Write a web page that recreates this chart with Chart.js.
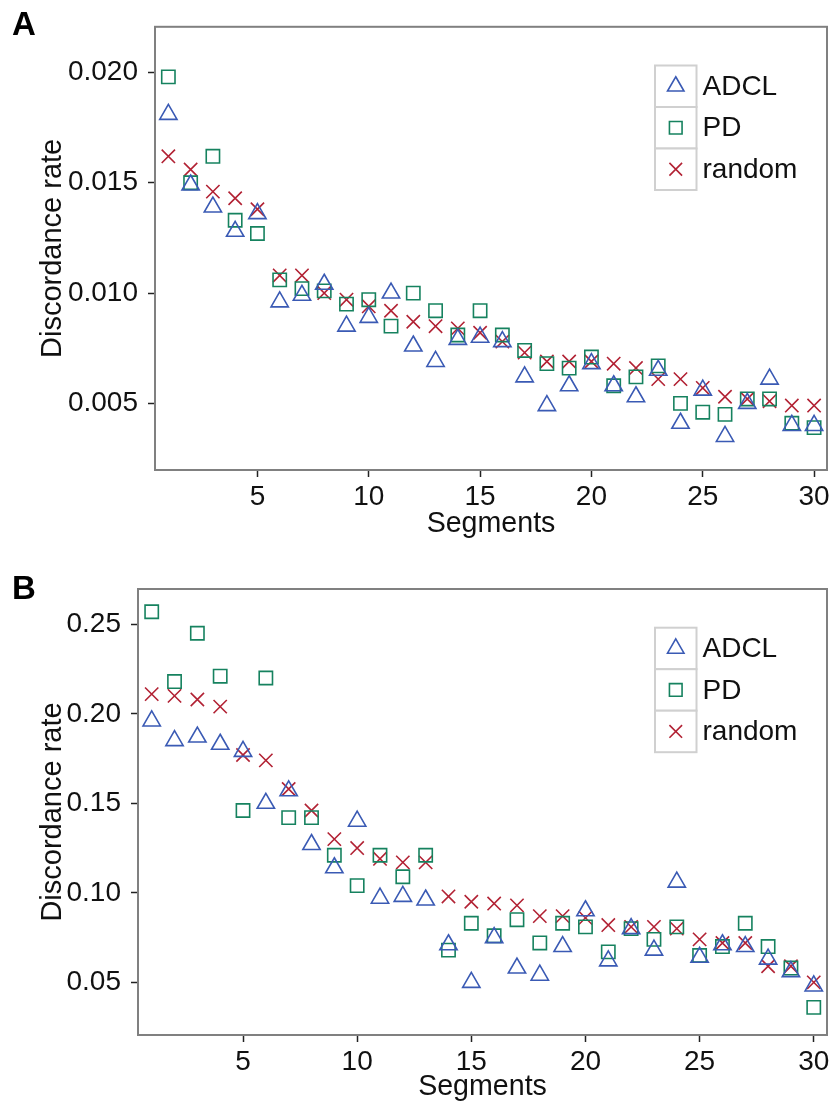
<!DOCTYPE html>
<html>
<head>
<meta charset="utf-8">
<script src="https://cdn.jsdelivr.net/npm/chart.js@4/dist/chart.umd.min.js"></script>
<style>
  html, body { margin: 0; padding: 0; background: #fff; overflow: hidden; }
  #wrap { position: relative; width: 833px; height: 1103px; }
  canvas { position: absolute; left: 0; }
  #chartA { top: 0; }
  #chartB { top: 550px; }
  .tag { position: absolute; left: 12px; font: bold 33px "Liberation Sans", Arial, Helvetica, sans-serif; line-height: 1; color: #000; }
</style>
</head>
<body>
<div id="wrap">
  <canvas id="chartA" width="833" height="550"></canvas>
  <canvas id="chartB" width="833" height="553"></canvas>
  <div class="tag" style="top:7px">A</div>
  <div class="tag" style="top:571px">B</div>
</div>
<script>
// Number of segments on the x axis
const segments = [1,2,3,4,5,6,7,8,9,10,11,12,13,14,15,16,17,18,19,20,21,22,23,24,25,26,27,28,29,30];
const seriesNames = ['ADCL', 'PD', 'random'];

// Panel A: discordance rate per segment count
const adclA = [0.0181,0.0149,0.0139,0.0128,0.0136,0.0096,0.0099,0.0104,0.0085,0.0089,
               0.0100,0.0076,0.0069,0.0079,0.0080,0.0078,0.0062,0.0049,0.0058,0.0068,
               0.0058,0.0053,0.0065,0.0041,0.0056,0.0035,0.0050,0.0061,0.0040,0.0040];
const pdA = [0.0198,0.0150,0.0162,0.0133,0.0127,0.0106,0.0102,0.0101,0.0095,0.0097,
             0.0085,0.0100,0.0092,0.0081,0.0092,0.0081,0.0074,0.0068,0.0066,0.0071,
             0.0058,0.0062,0.0067,0.0050,0.0046,0.0045,0.0052,0.0052,0.0041,0.0039];
const randomA = [0.0162,0.0156,0.0146,0.0143,0.0138,0.0108,0.0108,0.0100,0.0097,0.0094,
                 0.0092,0.0087,0.0085,0.0084,0.0082,0.0078,0.0073,0.0069,0.0069,0.0069,
                 0.0068,0.0066,0.0061,0.0061,0.0057,0.0053,0.0052,0.0051,0.0049,0.0049];

// Panel B: discordance rate per segment count
const adclB = [0.196,0.185,0.187,0.183,0.179,0.150,0.157,0.127,0.114,0.140,
               0.097,0.098,0.096,0.071,0.050,0.075,0.058,0.054,0.070,0.090,
               0.062,0.080,0.068,0.106,0.064,0.071,0.070,0.063,0.056,0.048];
const pdB = [0.257,0.218,0.245,0.221,0.146,0.220,0.142,0.142,0.121,0.104,
             0.121,0.109,0.121,0.068,0.083,0.076,0.085,0.072,0.083,0.081,
             0.067,0.080,0.074,0.081,0.065,0.070,0.083,0.070,0.058,0.036];
const randomB = [0.211,0.210,0.208,0.204,0.177,0.174,0.158,0.146,0.130,0.125,
                 0.119,0.117,0.117,0.098,0.095,0.094,0.093,0.087,0.087,0.086,
                 0.082,0.081,0.081,0.080,0.074,0.072,0.072,0.059,0.059,0.050];

// Tick marks and their labels
const xTicks = [5, 10, 15, 20, 25, 30];
const yTicksA = [0.005, 0.010, 0.015, 0.020];
const yTickLabelsA = ['0.005', '0.010', '0.015', '0.020'];
const yTicksB = [0.05, 0.10, 0.15, 0.20, 0.25];
const yTickLabelsB = ['0.05', '0.10', '0.15', '0.20', '0.25'];

const FONT = '"Liberation Sans", Arial, Helvetica, sans-serif';
Chart.defaults.font.family = FONT;
Chart.defaults.color = '#111';

const seriesStyles = [
  { pointStyle: 'triangle', radius: 10, color: '#3a5ab4' },
  { pointStyle: 'rect',     radius: 9.4, color: '#16825f' },
  { pointStyle: 'crossRot', radius: 9.4, color: '#b22234' }
];

// Grey frame around the plotting panel
const panelFrame = {
  id: 'panelFrame',
  afterDatasetsDraw(chart) {
    const { ctx, chartArea: a } = chart;
    ctx.save();
    ctx.strokeStyle = '#808080';
    ctx.lineWidth = 2;
    ctx.strokeRect(a.left, a.top, a.right - a.left, a.bottom - a.top);
    ctx.restore();
  }
};

// Legend drawn as a column of boxed keys inside the panel
const keyLegend = {
  id: 'keyLegend',
  afterDraw(chart, args, opts) {
    const { ctx, chartArea: a } = chart;
    const cell = opts.cell;
    const x0 = a.right - opts.fromRight;
    const y0 = a.top + opts.fromTop;
    ctx.save();
    chart.data.datasets.forEach((ds, i) => {
      const y = y0 + i * cell;
      ctx.fillStyle = '#fff';
      ctx.fillRect(x0, y, cell, cell);
      ctx.strokeStyle = '#d0d0d0';
      ctx.lineWidth = 2;
      ctx.strokeRect(x0, y, cell, cell);
      ctx.strokeStyle = ds.pointBorderColor;
      ctx.fillStyle = 'rgba(0,0,0,0)';
      ctx.lineWidth = ds.pointBorderWidth;
      Chart.helpers.drawPoint(ctx, {
        pointStyle: ds.pointStyle, radius: ds.pointRadius * 0.95,
        borderWidth: ds.pointBorderWidth, rotation: 0
      }, x0 + cell / 2, y + cell / 2);
      ctx.fillStyle = '#111';
      ctx.font = '28px ' + FONT;
      ctx.textBaseline = 'middle';
      ctx.textAlign = 'left';
      ctx.fillText(ds.label, x0 + cell + 6, y + cell / 2 + 1);
    });
    ctx.restore();
  }
};

function buildPanel(canvasId, values, yTicks, yLabels, yRange, geo) {
  const datasets = seriesNames.map((name, i) => ({
    label: name,
    data: segments.map((s, k) => ({ x: s, y: values[i][k] })),
    pointStyle: seriesStyles[i].pointStyle,
    pointRadius: seriesStyles[i].radius,
    pointHoverRadius: seriesStyles[i].radius,
    pointBorderColor: seriesStyles[i].color,
    pointBackgroundColor: 'rgba(0,0,0,0)',
    pointBorderWidth: 1.6,
    showLine: false
  }));

  return new Chart(document.getElementById(canvasId), {
    type: 'scatter',
    data: { datasets },
    plugins: [panelFrame, keyLegend],
    options: {
      responsive: false,
      animation: false,
      events: [],
      layout: { autoPadding: false, padding: { top: geo.top, right: 6, left: 0, bottom: 0 } },
      plugins: {
        legend: { display: false },
        tooltip: { enabled: false },
        keyLegend: { cell: 41.5, fromRight: 172, fromTop: 38.7 }
      },
      scales: {
        x: {
          type: 'linear',
          min: 0.4,
          max: 30.58,
          afterBuildTicks: s => { s.ticks = xTicks.map(v => ({ value: v })); },
          afterFit: s => { s.height = geo.xHeight; },
          grid: { drawOnChartArea: false, drawTicks: true, tickLength: 7, tickColor: '#222', tickWidth: 1.5 },
          border: { display: false },
          ticks: { font: { size: 28 }, color: '#111', padding: 3, maxRotation: 0, minRotation: 0, autoSkip: false,
                   callback: v => String(v) },
          title: { display: true, text: 'Segments', font: { size: 28.6 }, color: '#111',
                   padding: { top: 0, bottom: geo.xTitlePad } }
        },
        y: {
          type: 'linear',
          min: yRange[0],
          max: yRange[1],
          afterBuildTicks: s => { s.ticks = yTicks.map(v => ({ value: v })); },
          afterFit: s => { s.width = geo.yWidth; },
          grid: { drawOnChartArea: false, drawTicks: true, tickLength: 7, tickColor: '#222', tickWidth: 1.5 },
          border: { display: false },
          ticks: { font: { size: 28 }, color: '#111', padding: 10,
                   callback: (v, i) => yLabels[i] },
          title: { display: true, text: 'Discordance rate', font: { size: 29 }, color: '#111',
                   padding: { top: 36, bottom: 0 } }
        }
      }
    }
  });
}

buildPanel('chartA', [adclA, pdA, randomA], yTicksA, yTickLabelsA, [0.00198, 0.02207],
           { top: 24, xHeight: 80, yWidth: 155, xTitlePad: 9 });
buildPanel('chartB', [adclB, pdB, randomB], yTicksB, yTickLabelsB, [0.0206, 0.2697],
           { top: 39, xHeight: 68, yWidth: 138, xTitlePad: -1 });
</script>
</body>
</html>
